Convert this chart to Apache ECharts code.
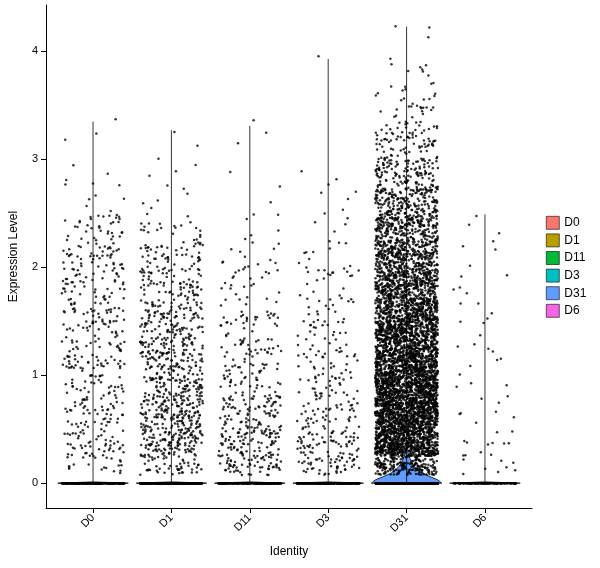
<!DOCTYPE html><html><head><meta charset="utf-8">
<script src="https://cdn.jsdelivr.net/npm/echarts@6/dist/echarts.min.js"></script>
<style>html,body{margin:0;background:#fff}#c{width:600px;height:568px}</style></head><body><div id="c"></div>
<script>
const categories=['D0','D1','D11','D3','D31','D6'];
const colors=['#F8766D','#B79F00','#00BA38','#00BFC4','#619CFF','#F564E3'];
const maxValues=[3.35,3.27,3.31,3.93,4.23,2.49];
const binWidth=0.25;
// counts of non-zero cells per 0.25 expression bin
const binsD0=[20,50,45,45,45,45,45,45,45,35,5,6,2,1];
const binsD1=[50,130,130,115,100,90,80,65,50,22,5,4,2,1];
const binsD11=[60,90,70,50,40,30,25,20,12,6,2,1,2,1];
const binsD3=[50,60,45,35,30,25,20,18,10,5,4,3,0,0,0,1];
const binsD31=[200,700,750,700,640,560,480,400,330,260,190,120,70,35,15,8,3];
const binsD6=[8,12,6,5,6,5,4,5,4,3];
const zeroCounts=[300,400,300,300,500,150];
// violin half-width profiles [value, half-width]
const profileD31=[[0,0.45],[0.03,0.4],[0.06,0.3],[0.1,0.18],[0.15,0.1],[0.2,0.06],[0.25,0.03],[0.32,0.008]];
const profileFlat=[[0,0.45],[0.012,0.005]];
const allBins=[binsD0,binsD1,binsD11,binsD3,binsD31,binsD6];
const jitter=0.4;
// deterministic scatter position within a bin / jitter band (layout only)
const hash=(n)=>{const s=Math.sin(n*12.9898+78.233)*43758.5453;return s-Math.floor(s);};

const series=[];
categories.forEach((c,i)=>{
  const prof=(c==='D31'?profileD31:profileFlat);
  series.push({name:c,type:'custom',itemStyle:{color:colors[i]},data:[[i+1,0]],z:1,
    renderItem:(params,api)=>{
      const x=i+1;const pts=[];
      prof.forEach(p=>pts.push(api.coord([x+p[1],p[0]])));
      for(let k=prof.length-1;k>=0;k--)pts.push(api.coord([x-prof[k][1],prof[k][0]]));
      const a=api.coord([x,0]),b=api.coord([x,maxValues[i]]);
      return {type:'group',children:[
        {type:'polygon',shape:{points:pts},style:{fill:colors[i],stroke:'#000',lineWidth:0.8}},
        {type:'line',shape:{x1:a[0],y1:a[1],x2:b[0],y2:b[1]},style:{stroke:'#000',lineWidth:0.8}}]};
    }});
});
const pts=[];
let n=0;
allBins.forEach((bins,i)=>{
  for(let z=0;z<zeroCounts[i];z++){n++;pts.push([i+1+(hash(n)*2-1)*jitter,0]);}
  bins.forEach((cnt,b)=>{for(let k=0;k<cnt;k++){n++;
    const u=hash(n), f=hash(n+50000);
    pts.push([i+1+(u*2-1)*jitter,b*binWidth+(b===0?0.3+0.7*f:f)*binWidth]);}});
});
series.push({type:'scatter',data:pts,symbolSize:2.5,itemStyle:{color:'#000'},silent:true,z:2,large:true,largeThreshold:100000});

const chart=echarts.init(document.getElementById('c'));
chart.setOption({animation:false,
  grid:{left:42,right:68,top:5,bottom:60},
  legend:{data:categories,orient:'vertical',left:541,top:211,itemWidth:13,itemHeight:13,itemGap:4,icon:'rect',
    itemStyle:{borderColor:'#000',borderWidth:0.6},textStyle:{fontSize:12,color:'#000',fontFamily:'Arial'}},
  xAxis:{type:'value',min:0.4,max:6.6,interval:1,name:'Identity',nameLocation:'middle',nameGap:38,
    nameTextStyle:{fontSize:12,color:'#000'},splitLine:{show:false},
    axisLine:{onZero:false,lineStyle:{color:'#000'}},axisTick:{customValues:[1,2,3,4,5,6],lineStyle:{color:'#000'}},
    axisLabel:{customValues:[1,2,3,4,5,6],rotate:45,color:'#000',fontSize:11,formatter:v=>categories[Math.round(v)-1]||''}},
  yAxis:{type:'value',min:-0.23,max:4.43,name:'Expression Level',nameLocation:'middle',nameGap:26,
    nameTextStyle:{fontSize:12,color:'#000'},splitLine:{show:false},
    axisLine:{onZero:false,lineStyle:{color:'#000'}},axisTick:{customValues:[0,1,2,3,4],lineStyle:{color:'#000'}},
    axisLabel:{customValues:[0,1,2,3,4],color:'#000',fontSize:11}},
  series});
</script></body></html>
